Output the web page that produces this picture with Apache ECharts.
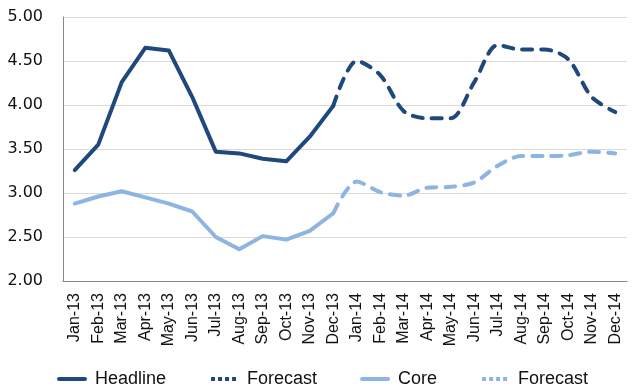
<!DOCTYPE html>
<html>
<head>
<meta charset="utf-8">
<script src="https://cdn.jsdelivr.net/npm/echarts@6/dist/echarts.min.js"></script>
<style>html,body{margin:0;padding:0;background:#fff;}#c{width:634px;height:387px;}</style>
</head>
<body>
<div id="c"></div>
<script>
var categories = ["Jan-13","Feb-13","Mar-13","Apr-13","May-13","Jun-13","Jul-13","Aug-13","Sep-13","Oct-13","Nov-13","Dec-13",
  "Jan-14","Feb-14","Mar-14","Apr-14","May-14","Jun-14","Jul-14","Aug-14","Sep-14","Oct-14","Nov-14","Dec-14"];
var headline = [3.26,3.55,4.26,4.65,4.62,4.09,3.47,3.45,3.39,3.36,3.64,3.99,
  null,null,null,null,null,null,null,null,null,null,null,null];
var headlineForecast = [null,null,null,null,null,null,null,null,null,null,null,3.99,
  4.50,4.34,3.93,3.85,3.85,4.26,4.68,4.63,4.63,4.52,4.09,3.92];
var core = [2.88,2.96,3.02,2.95,2.88,2.79,2.50,2.36,2.51,2.47,2.57,2.77,
  null,null,null,null,null,null,null,null,null,null,null,null];
var coreForecast = [null,null,null,null,null,null,null,null,null,null,null,2.77,
  3.13,3.01,2.97,3.06,3.07,3.12,3.31,3.42,3.42,3.43,3.47,3.45];
var yTicks = [2.00,2.50,3.00,3.50,4.00,4.50,5.00];

var navy = '#1F497D', light = '#8DB4E2';
var dash = [10, 9];
var chart = echarts.init(document.getElementById('c'), null, {renderer:'canvas'});
function mk(name, data, color, dashed){
  return {
    name: name, type: 'line', data: data, symbol: 'none', smooth: dashed ? 0.3 : false,
    connectNulls: false, animation: false,
    lineStyle: {color: color, width: 4, type: dashed ? dash : 'solid', cap: 'round', join: 'round'},
    itemStyle: {color: color}
  };
}
chart.setOption({
  animation: false,
  grid: {left: 63, right: 7, top: 17, bottom: 106},
  xAxis: {
    type: 'category', data: categories, boundaryGap: true,
    axisLine: {show: true, lineStyle: {color: '#888', width: 1}},
    axisTick: {show: false},
    axisLabel: {rotate: 90, interval: 0, margin: 12, color: '#111', fontFamily: 'Liberation Sans', fontSize: 16}
  },
  yAxis: {
    type: 'value', min: 2, max: 5, interval: 0.5,
    axisLine: {show: true, lineStyle: {color: '#888', width: 1}},
    axisTick: {show: false},
    splitLine: {lineStyle: {color: '#d9d9d9', width: 1}},
    axisLabel: {margin: 20, color: '#111', fontFamily: 'DejaVu Sans', fontSize: 16,
      formatter: function(v){ return v.toFixed(2); }}
  },
  legend: {
    left: 52, top: 365, itemWidth: 26, itemHeight: 12, itemGap: 43,
    itemStyle: {opacity: 0, borderWidth: 0},
    textStyle: {fontFamily: 'Liberation Sans', fontSize: 18, color: '#111', padding: [0,0,0,5]},
    data: [
      {name: 'Headline', lineStyle: {width: 4, color: navy}},
      {name: 'Forecast', lineStyle: {width: 4, color: navy, type: [4,3], cap: 'butt'}},
      {name: 'Core', lineStyle: {width: 4, color: light}},
      {name: 'Forecast ', lineStyle: {width: 4, color: light, type: [4,3], cap: 'butt'}}
    ]
  },
  series: [
    mk('Headline', headline, navy, false),
    mk('Forecast', headlineForecast, navy, true),
    mk('Core', core, light, false),
    mk('Forecast ', coreForecast, light, true)
  ]
});
</script>
</body>
</html>
